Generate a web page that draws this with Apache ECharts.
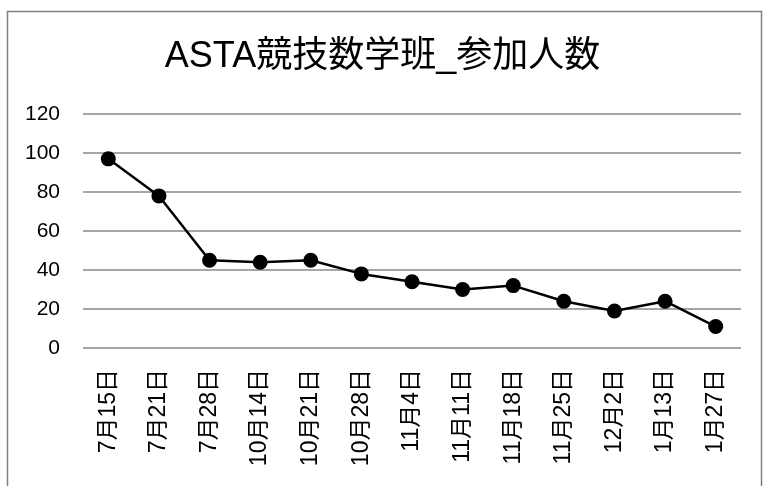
<!DOCTYPE html>
<html>
<head>
<meta charset="utf-8">
<script src="https://cdn.jsdelivr.net/npm/echarts@6/dist/echarts.min.js"></script>
<style>
html,body{margin:0;padding:0;background:#fff;}
#chart{width:765px;height:486px;}
</style>
</head>
<body>
<div id="chart"></div>
<script>
// Session dates and attendance counts
const categories = ['7月15日','7月21日','7月28日','10月14日','10月21日','10月28日','11月4日','11月11日','11月18日','11月25日','12月2日','1月13日','1月27日'];
const attendance = [97, 78, 45, 44, 45, 38, 34, 30, 32, 24, 19, 24, 11];
const yTicks = [0, 20, 40, 60, 80, 100, 120];

// Latin glyphs from Liberation Sans, CJK glyphs fall back to Noto Sans CJK JP
const font = '"Liberation Sans", "Noto Sans CJK JP", sans-serif';
const chart = echarts.init(document.getElementById('chart'), null, {renderer: 'canvas'});

chart.setOption({
  backgroundColor: '#fff',
  animation: false,
  title: {
    text: 'ASTA競技数学班_参加人数',
    left: 'center',
    top: 34,
    textStyle: {fontFamily: font, fontSize: 36, fontWeight: 'normal', color: '#000'}
  },
  graphic: [{
    type: 'rect',
    shape: {x: 7.5, y: 11.5, width: 754, height: 520},
    style: {fill: 'none', stroke: '#808080', lineWidth: 1.5},
    silent: true
  }],
  grid: {left: 83, right: 24, top: 114, bottom: 138, containLabel: false},
  xAxis: {
    type: 'category',
    data: categories,
    boundaryGap: true,
    axisLine: {show: false},
    axisTick: {show: false},
    axisLabel: {
      rotate: 90,
      margin: 21,
      fontFamily: font,
      fontSize: 23,
      color: '#000'
    }
  },
  yAxis: {
    type: 'value',
    min: yTicks[0],
    max: yTicks[yTicks.length - 1],
    interval: 20,
    axisLine: {show: false},
    axisTick: {show: false},
    axisLabel: {fontFamily: font, fontSize: 21, color: '#000', margin: 23},
    splitLine: {lineStyle: {color: '#888', width: 1.5}}
  },
  series: [{
    type: 'line',
    data: attendance,
    symbol: 'circle',
    symbolSize: 15,
    itemStyle: {color: '#000'},
    lineStyle: {color: '#000', width: 2.5}
  }]
});
</script>
</body>
</html>
